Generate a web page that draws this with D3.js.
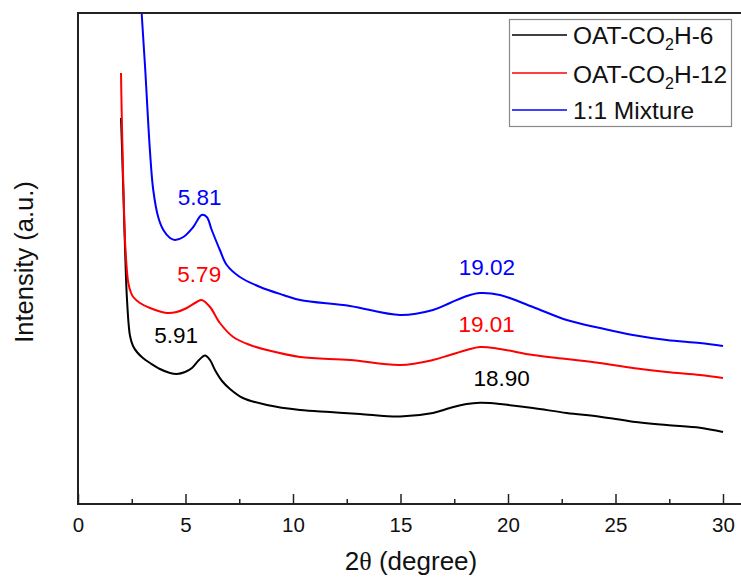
<!DOCTYPE html>
<html><head><meta charset="utf-8">
<script src="https://cdn.jsdelivr.net/npm/d3@7"></script>
<style>
html,body{margin:0;padding:0;background:#fff;}
svg{display:block;font-family:"Liberation Sans",Arial,sans-serif;}
</style></head>
<body>
<svg id="chart" width="741" height="578"></svg>
<script>
// ---- data (2θ in degrees, intensity in arbitrary units) ----
const seriesColors = ["#000000", "#ff0000", "#0000ff"];

const x6 = [2.00,2.05,2.12,2.19,2.28,2.42,2.56,2.74,3.02,3.35,3.81,4.28,4.60,4.98,5.30,5.63,5.91,6.14,6.37,6.70,7.07,7.67,8.79,10.33,11.72,13.12,14.98,16.51,17.30,18.08,18.70,19.16,19.63,21.16,22.73,24.28,25.81,27.38,28.93,30.00];
const y6 = [386,354,304,254,204,168,158,152,146,141,135,131,130,132,136,144,148.5,144,134,123,115,106,99,94,92,90,87.5,91,96,100,101.3,101,100,96,91,87.3,82.3,79,76.3,72];

const x12 = [2.00,2.03,2.07,2.14,2.21,2.34,2.47,2.57,2.88,3.35,4.13,4.59,5.06,5.52,5.75,6.14,6.60,7.22,8.00,8.78,10.33,12.65,14.98,16.51,17.30,18.08,18.70,19.63,21.16,22.73,24.28,25.81,27.38,28.93,30.00];
const y12 = [431,394,354,294,254,221,211,207,201,196,191,192,196,202,204,197,181,167,159,154,147,144,139,144,149,154,157,155,149,145,141,136,132,129,126];

const xMix = [2.90,2.96,3.12,3.35,3.50,3.73,3.97,4.28,4.51,4.90,5.36,5.75,5.99,6.22,6.60,6.92,7.53,8.47,9.55,10.33,12.65,14.98,16.51,17.30,18.08,18.70,19.63,21.16,22.73,24.28,25.81,27.38,28.93,30.00];
const yMix = [512,491,437,352,314,287,274,266,264,267,277,289,287,274,254,239,227,217,209,204,198,189,194,201,208,211,209,197,184,176,169,164,161,158];

const xTicks = [0,5,10,15,20,25,30];
const xMinorTicks = [2.5,7.5,12.5,17.5,22.5,27.5];

const peakLabels = [
  {s:2, x:5.81, y:299, text:"5.81"},
  {s:1, x:5.79, y:222, text:"5.79"},
  {s:0, x:5.91, y:161, text:"5.91"},
  {s:2, x:19.02, y:229, text:"19.02"},
  {s:1, x:19.01, y:172, text:"19.01"},
  {s:0, x:18.90, y:118, text:"18.90"}
];
const peakDx = [-0.15, -0.15, -1.35, 0, 0, 0.8]; // label offsets in degrees

// ---- layout ----
const svg = d3.select("#chart");
const L = 78, T = 13, R = 745, B = 504;
const x = d3.scaleLinear().domain([0, 30]).range([L, 723]);
const y = d3.scaleLinear().domain([0, 491]).range([B, T]);

svg.append("defs").append("clipPath").attr("id","clip")
  .append("rect").attr("x",L).attr("y",T).attr("width",R-L).attr("height",B-T);

// curves
const series = [
  {xs:x6, ys:y6}, {xs:x12, ys:y12}, {xs:xMix, ys:yMix}
];
const line = d3.line().x(d=>x(d[0])).y(d=>y(d[1])).curve(d3.curveCatmullRom.alpha(0.5));
const g = svg.append("g").attr("clip-path","url(#clip)");
series.forEach((s,i)=>{
  g.append("path").datum(s.xs.map((v,j)=>[v,s.ys[j]]))
    .attr("d",line).attr("fill","none")
    .attr("stroke",seriesColors[i]).attr("stroke-width",2);
});

// frame
svg.append("rect").attr("x",L).attr("y",T).attr("width",R-L).attr("height",B-T)
  .attr("fill","none").attr("stroke","#222").attr("stroke-width",2);

// x axis
const xAxis = d3.axisBottom(x).tickValues(xTicks).tickSize(-10).tickPadding(13).tickFormat(d3.format("d"));
const ax = svg.append("g").attr("transform",`translate(0,${B})`).call(xAxis);
ax.select(".domain").remove();
ax.selectAll("line").attr("stroke","#222").attr("stroke-width",1.5);
ax.selectAll("text").attr("font-size",20.5).attr("fill","#111").attr("font-family","Liberation Sans, Arial, sans-serif");
const axm = svg.append("g").attr("transform",`translate(0,${B})`)
  .call(d3.axisBottom(x).tickValues(xMinorTicks).tickSize(-5).tickFormat(""));
axm.select(".domain").remove();
axm.selectAll("line").attr("stroke","#222").attr("stroke-width",1.5);

// axis titles
const xt = svg.append("text").attr("x",411).attr("y",570).attr("text-anchor","middle")
  .attr("font-size",26).attr("fill","#111");
xt.append("tspan").text("2");
xt.append("tspan").attr("font-family","Liberation Serif, serif").text("\u03b8");
xt.append("tspan").text(" (degree)");

svg.append("text").attr("transform","translate(33,262) rotate(-90)")
  .attr("text-anchor","middle").attr("font-size",25.5).attr("fill","#111")
  .text("Intensity (a.u.)");

// peak labels
peakLabels.forEach((p,i)=>{
  svg.append("text").attr("x",x(p.x + peakDx[i])).attr("y",y(p.y))
    .attr("text-anchor","middle").attr("font-size",22.5)
    .attr("fill",seriesColors[p.s]).text(p.text);
});

// legend
const lg = svg.append("g");
lg.append("rect").attr("x",509.5).attr("y",19.5).attr("width",222).attr("height",107)
  .attr("fill","#fff").attr("stroke","#888").attr("stroke-width",1.2);
const legendRows = [
  {main:"OAT-CO", sub:"2", tail:"H-6"},
  {main:"OAT-CO", sub:"2", tail:"H-12"},
  {main:"1:1 Mixture", sub:"", tail:""}
];
const rowLineY = [35, 73, 110];
const rowBaseY = [44, 82.5, 119];
legendRows.forEach((r,i)=>{
  lg.append("line").attr("x1",512).attr("x2",567).attr("y1",rowLineY[i]).attr("y2",rowLineY[i])
    .attr("stroke",seriesColors[i]).attr("stroke-width",1.5);
  const t = lg.append("text").attr("x",573).attr("y",rowBaseY[i]).attr("font-size",24.5).attr("fill","#111");
  t.append("tspan").text(r.main);
  if (r.sub) {
    t.append("tspan").attr("font-size",16).attr("dy",6).text(r.sub);
    t.append("tspan").attr("dy",-6).text(r.tail);
  }
});
</script>
</body></html>
